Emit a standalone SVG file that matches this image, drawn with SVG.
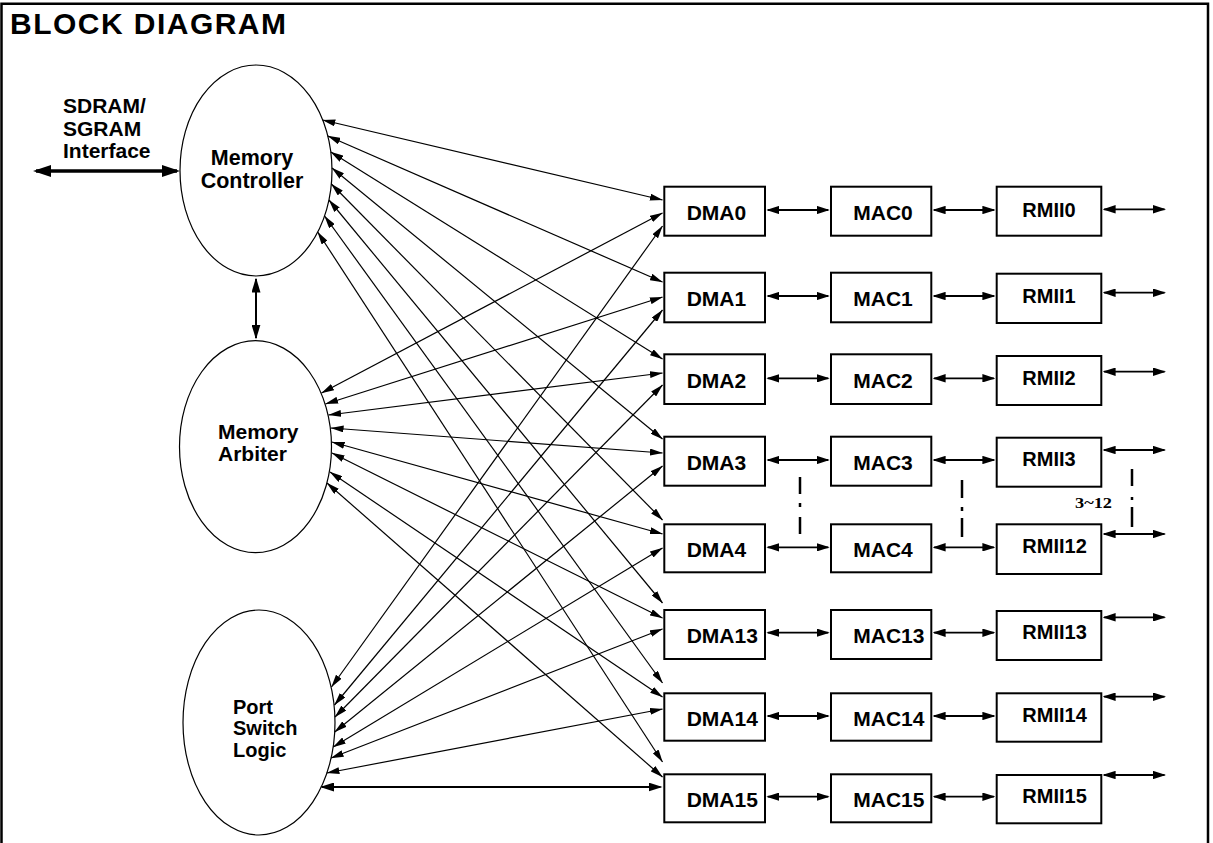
<svg xmlns="http://www.w3.org/2000/svg" width="1213" height="843" viewBox="0 0 1213 843">
<style>
.t{font-family:"Liberation Sans",Arial,Helvetica,sans-serif;font-weight:bold;fill:#000}
.d{font-size:21px}
.r{font-size:20px}
.box{fill:#fff;stroke:#000;stroke-width:2}
.ell{fill:#fff;stroke:#000;stroke-width:1.2}
.fan{stroke:#000;stroke-width:1.2;fill:none;marker-start:url(#af);marker-end:url(#af)}
.ba{stroke:#000;stroke-width:1.8;fill:none;marker-start:url(#ab);marker-end:url(#ab)}
.dash{stroke:#000;stroke-width:2.5;fill:none}
</style>
<defs>
<marker id="af" markerUnits="userSpaceOnUse" markerWidth="13" markerHeight="7" refX="12.6" refY="3.5" orient="auto-start-reverse"><path d="M0,0 L13,3.5 L0,7 Z" fill="#000"/></marker>
<marker id="ab" markerUnits="userSpaceOnUse" markerWidth="13" markerHeight="8.4" refX="11.5" refY="4.2" orient="auto-start-reverse"><path d="M0,0 L13,4.2 L0,8.4 Z" fill="#000"/></marker>
<marker id="av" markerUnits="userSpaceOnUse" markerWidth="15" markerHeight="9" refX="13.5" refY="4.5" orient="auto-start-reverse"><path d="M0,0 L15,4.5 L0,9 Z" fill="#000"/></marker>
<marker id="at" markerUnits="userSpaceOnUse" markerWidth="18" markerHeight="12" refX="15" refY="6" orient="auto-start-reverse"><path d="M0,0 L18,6 L0,12 Z" fill="#000"/></marker>
<marker id="ah" markerUnits="userSpaceOnUse" markerWidth="14" markerHeight="9" refX="12" refY="4.5" orient="auto-start-reverse"><path d="M0,0 L14,4.5 L0,9 Z" fill="#000"/></marker>
</defs>
<rect width="1213" height="843" fill="#fff"/>
<path d="M1.5,843 V3.8 H1208 V843" fill="none" stroke="#000" stroke-width="2.5"/>
<text class="t" x="10" y="34" font-size="30" textLength="276">BLOCK DIAGRAM</text>

<g id="sdram-interface">
<text class="t d"><tspan x="63" y="113">SDRAM/</tspan><tspan x="63" y="136">SGRAM</tspan><tspan x="63" y="158">Interface</tspan></text>
</g>
<g id="memory-controller">
<ellipse class="ell" cx="256" cy="170.5" rx="76" ry="105.5"/>
<text class="t" font-size="21.5" text-anchor="middle"><tspan x="252" y="165">Memory</tspan><tspan x="252" y="188">Controller</tspan></text>
</g>
<g id="memory-arbiter">
<ellipse class="ell" cx="255.5" cy="446.7" rx="76" ry="106"/>
<text class="t d"><tspan x="218" y="439">Memory</tspan><tspan x="218" y="461">Arbiter</tspan></text>
</g>
<g id="port-switch-logic">
<ellipse class="ell" cx="259" cy="722.5" rx="76" ry="112.5"/>
<text class="t" font-size="20"><tspan x="233" y="713.5">Port</tspan><tspan x="233" y="735">Switch</tspan><tspan x="233" y="756.5">Logic</tspan></text>
</g>

<g id="dma0"><rect class="box" x="664.3" y="186.7" width="100.7" height="49"/><text class="t d" x="686.7" y="220">DMA0</text></g>
<g id="dma1"><rect class="box" x="664.3" y="272.7" width="100.7" height="49.6"/><text class="t d" x="686.7" y="306">DMA1</text></g>
<g id="dma2"><rect class="box" x="664.3" y="354.3" width="100.7" height="49.7"/><text class="t d" x="686.7" y="388.3">DMA2</text></g>
<g id="dma3"><rect class="box" x="664.3" y="436.7" width="100.7" height="49"/><text class="t d" x="686.7" y="470">DMA3</text></g>
<g id="dma4"><rect class="box" x="664.3" y="524.3" width="100.7" height="48"/><text class="t d" x="686.7" y="556.7">DMA4</text></g>
<g id="dma13"><rect class="box" x="664.3" y="610" width="100.7" height="49"/><text class="t d" x="686.7" y="643.3">DMA13</text></g>
<g id="dma14"><rect class="box" x="664.3" y="693.3" width="100.7" height="47.4"/><text class="t d" x="686.7" y="726">DMA14</text></g>
<g id="dma15"><rect class="box" x="664.3" y="774.3" width="100.7" height="48"/><text class="t d" x="686.7" y="806.7">DMA15</text></g>

<g id="mac0"><rect class="box" x="831" y="186.7" width="100.3" height="49"/><text class="t d" x="853.3" y="220">MAC0</text></g>
<g id="mac1"><rect class="box" x="831" y="272.7" width="100.3" height="49.6"/><text class="t d" x="853.3" y="306">MAC1</text></g>
<g id="mac2"><rect class="box" x="831" y="354.3" width="100.3" height="49.7"/><text class="t d" x="853.3" y="388.3">MAC2</text></g>
<g id="mac3"><rect class="box" x="831" y="436.7" width="100.3" height="49"/><text class="t d" x="853.3" y="470">MAC3</text></g>
<g id="mac4"><rect class="box" x="831" y="524.3" width="100.3" height="48"/><text class="t d" x="853.3" y="556.7">MAC4</text></g>
<g id="mac13"><rect class="box" x="831" y="610" width="100.3" height="49"/><text class="t d" x="853.3" y="643.3">MAC13</text></g>
<g id="mac14"><rect class="box" x="831" y="693.3" width="100.3" height="47.4"/><text class="t d" x="853.3" y="726">MAC14</text></g>
<g id="mac15"><rect class="box" x="831" y="774.3" width="100.3" height="48"/><text class="t d" x="853.3" y="806.7">MAC15</text></g>

<g id="rmii0"><rect class="box" x="996.7" y="186.7" width="104.6" height="49"/><text class="t r" x="1022.3" y="217.3">RMII0</text></g>
<g id="rmii1"><rect class="box" x="996.7" y="273.7" width="104.6" height="49.3"/><text class="t r" x="1022.3" y="302.7">RMII1</text></g>
<g id="rmii2"><rect class="box" x="996.7" y="356" width="104.6" height="49"/><text class="t r" x="1022.3" y="385">RMII2</text></g>
<g id="rmii3"><rect class="box" x="996.7" y="437.7" width="104.6" height="49"/><text class="t r" x="1022.3" y="466">RMII3</text></g>
<g id="rmii12"><rect class="box" x="996.7" y="524.3" width="104.6" height="49.7"/><text class="t r" x="1022.3" y="553.3">RMII12</text></g>
<g id="rmii13"><rect class="box" x="996.7" y="611" width="104.6" height="49"/><text class="t r" x="1022.3" y="639.3">RMII13</text></g>
<g id="rmii14"><rect class="box" x="996.7" y="693.3" width="104.6" height="48.4"/><text class="t r" x="1022.3" y="721.7">RMII14</text></g>
<g id="rmii15"><rect class="box" x="996.7" y="775" width="104.6" height="48.3"/><text class="t r" x="1022.3" y="803.3">RMII15</text></g>

<g id="range-label">
<text x="1075" y="508.3" font-family="'Liberation Serif','Times New Roman',serif" font-weight="bold" font-size="15" textLength="37" lengthAdjust="spacingAndGlyphs">3~12</text>
</g>

<g id="connectors">
<path d="M36,171 H177" stroke="#000" stroke-width="3.3" marker-start="url(#at)" marker-end="url(#at)"/>
<path d="M256,279 V338" stroke="#000" stroke-width="2" marker-start="url(#av)" marker-end="url(#av)"/>

<path class="fan" d="M322.7,120 L662.5,200"/>
<path class="fan" d="M327.8,136 L662.5,282"/>
<path class="fan" d="M330.8,152 L662.5,359"/>
<path class="fan" d="M332,168 L662.5,439"/>
<path class="fan" d="M331.4,184 L662.5,520"/>
<path class="fan" d="M329,200 L662.5,603"/>
<path class="fan" d="M324.6,216 L662.5,683"/>
<path class="fan" d="M317.7,232 L662.5,762"/>

<path class="fan" d="M321.5,393 L662.5,213"/>
<path class="fan" d="M325.5,404 L662.5,297"/>
<path class="fan" d="M328.5,415 L662.5,373"/>
<path class="fan" d="M331,428 L662.5,453"/>
<path class="fan" d="M332,442 L662.5,534"/>
<path class="fan" d="M332,453 L662.5,618"/>
<path class="fan" d="M330,472 L662.5,697"/>
<path class="fan" d="M327,483 L662.5,777"/>

<path class="fan" d="M331.5,687 L662.5,226"/>
<path class="fan" d="M334.5,705 L662.5,310"/>
<path class="fan" d="M335,717 L662.5,385"/>
<path class="fan" d="M334.7,732 L662.5,466"/>
<path class="fan" d="M333.2,747 L662.5,548"/>
<path class="fan" d="M331,758 L662.5,629"/>
<path class="fan" d="M326.8,773 L662.5,709"/>
<path d="M322,787 H660.5" stroke="#000" stroke-width="2.2" marker-start="url(#ah)" marker-end="url(#ah)"/>

<path class="ba" d="M767.8,210 H828.2"/>
<path class="ba" d="M767.8,296 H828.2"/>
<path class="ba" d="M767.8,378.3 H828.2"/>
<path class="ba" d="M767.8,460 H828.2"/>
<path class="ba" d="M767.8,547.3 H828.2"/>
<path class="ba" d="M767.8,632.7 H828.2"/>
<path class="ba" d="M767.8,716 H828.2"/>
<path class="ba" d="M767.8,796.7 H828.2"/>

<path class="ba" d="M934.1,210 H993.9"/>
<path class="ba" d="M934.1,296 H993.9"/>
<path class="ba" d="M934.1,378.3 H993.9"/>
<path class="ba" d="M934.1,460 H993.9"/>
<path class="ba" d="M934.1,547.3 H993.9"/>
<path class="ba" d="M934.1,632.7 H993.9"/>
<path class="ba" d="M934.1,716 H993.9"/>
<path class="ba" d="M934.1,796.7 H993.9"/>

<path class="ba" d="M1104.1,209.3 H1164.5"/>
<path class="ba" d="M1104.1,292.7 H1164.5"/>
<path class="ba" d="M1104.1,371.7 H1164.5"/>
<path class="ba" d="M1104.1,450 H1164.5"/>
<path class="ba" d="M1104.1,534 H1164.5"/>
<path class="ba" d="M1104.1,617.3 H1164.5"/>
<path class="ba" d="M1104.1,696.7 H1164.5"/>
<path class="ba" d="M1104.1,775 H1164.5"/>

<path class="dash" d="M800,477 V494 M800,503 V507 M800,517 V534"/>
<path class="dash" d="M962,480 V498 M962,507 V511 M962,518 V537"/>
<path class="dash" d="M1132,469 V486 M1132,497 V500 M1132,507 V527"/>
</g>
</svg>
